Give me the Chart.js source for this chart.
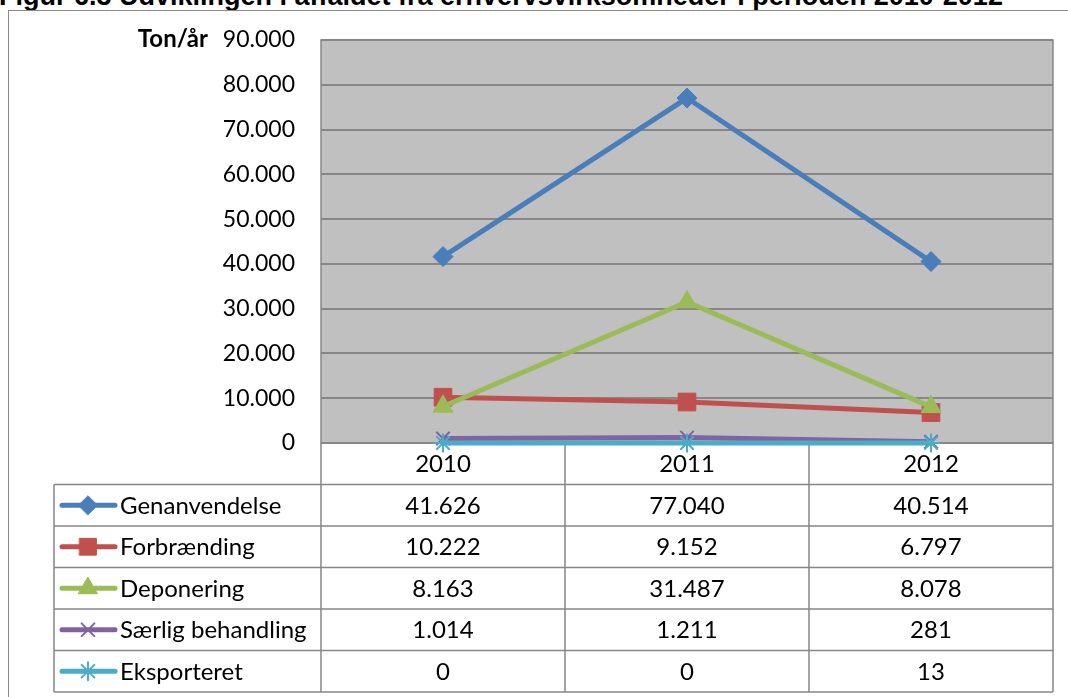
<!DOCTYPE html>
<html>
<head>
<meta charset="utf-8">
<script src="https://cdn.jsdelivr.net/npm/chart.js@4.4.1/dist/chart.umd.min.js"></script>
<style>
  body { margin: 0; background: #fff; overflow: hidden; }
  #wrap { position: relative; width: 1068px; height: 697px; }
  #frame { position: absolute; left: 8px; top: 10px; width: 1100px; height: 720px; border: 1.5px solid #8a8a8a; }
  #title { position: absolute; left: -1px; top: -19px; line-height: 27px; font: bold 27px "Liberation Sans", Arial, sans-serif; white-space: nowrap; color: #000; }
  canvas { position: absolute; left: 0; top: 0; }
</style>
</head>
<body>
<div id="wrap">
  <div id="title">Figur 6.3 Udviklingen i affaldet fra erhvervsvirksomheder i perioden 2010-2012</div>
  <div id="frame"></div>
  <canvas id="chart" width="1068" height="697"></canvas>
</div>
<script>
const years = ['2010', '2011', '2012'];
const seriesNames = ['Genanvendelse', 'Forbrænding', 'Deponering', 'Særlig behandling', 'Eksporteret'];
const genanvendelse = [41626, 77040, 40514];
const forbraending = [10222, 9152, 6797];
const deponering = [8163, 31487, 8078];
const saerlig = [1014, 1211, 281];
const eksporteret = [0, 0, 13];
const yTicks = [0, 10000, 20000, 30000, 40000, 50000, 60000, 70000, 80000, 90000];
const yTitle = 'Ton/år';

const colors = ['#4a7ebb', '#c0504d', '#9bbb59', '#8064a2', '#4bacc6'];
const styles = ['rectRot', 'rect', 'triangle', 'crossRot', 'star'];
const radii = [10, 12.5, 11.5, 9.5, 9.5];
const values = [genanvendelse, forbraending, deponering, saerlig, eksporteret];

const fmt = v => String(v).replace(/\B(?=(\d{3})+(?!\d))/g, '.');
const FONT = 'Lato, "Open Sans", sans-serif';
const GRID = '#868686';

const rowH = 41.5;
const legendLeft = 54;

const plotBg = {
  id: 'plotBg',
  beforeDraw(chart) {
    const { ctx, chartArea: a } = chart;
    ctx.save();
    ctx.fillStyle = '#c0c0c0';
    ctx.fillRect(a.left, a.top, a.right - a.left, a.bottom - a.top);
    ctx.restore();
  },
  beforeDatasetsDraw(chart) {
    const { ctx, chartArea: a, scales } = chart;
    ctx.save();
    ctx.strokeStyle = GRID;
    ctx.lineWidth = 1.5;
    ctx.strokeRect(a.left, a.top, a.right - a.left, a.bottom - a.top);

    // data table under the plot
    const top = a.bottom;
    const bottom = top + rowH * 6;
    const colW = (a.right - a.left) / years.length;
    ctx.beginPath();
    for (let k = 0; k <= years.length; k++) {
      const x = a.left + k * colW;
      ctx.moveTo(x, top); ctx.lineTo(x, bottom);
    }
    ctx.moveTo(legendLeft, top + rowH); ctx.lineTo(legendLeft, bottom);
    for (let k = 1; k <= 6; k++) {
      const y = top + rowH * k;
      ctx.moveTo(legendLeft, y); ctx.lineTo(a.right, y);
    }
    ctx.stroke();

    ctx.fillStyle = '#000';
    ctx.font = '24px ' + FONT;
    ctx.textBaseline = 'middle';
    ctx.textAlign = 'center';
    years.forEach((yr, j) => {
      const x = scales.x.getPixelForValue(j);
      ctx.fillText(yr, x, top + rowH / 2 + 1);
      values.forEach((vals, i) => {
        ctx.fillText(fmt(vals[j]), x, top + rowH * (i + 1.5) + 1);
      });
    });
    ctx.textAlign = 'left';
    seriesNames.forEach((name, i) => {
      const cy = top + rowH * (i + 1.5);
      ctx.save();
      ctx.strokeStyle = colors[i];
      ctx.lineWidth = 5;
      ctx.lineCap = 'round';
      ctx.beginPath();
      ctx.moveTo(62, cy); ctx.lineTo(115, cy);
      ctx.stroke();
      ctx.fillStyle = colors[i];
      ctx.lineWidth = i >= 3 ? 2 : 1;
      Chart.helpers.drawPoint(ctx, { pointStyle: styles[i], radius: radii[i] * 0.95, rotation: 0, borderWidth: ctx.lineWidth }, 88, cy);
      ctx.restore();
      ctx.fillStyle = '#000';
      ctx.fillText(name, 120, cy + 1);
    });

    // axis title
    ctx.font = 'bold 24px ' + FONT;
    ctx.textAlign = 'right';
    ctx.fillText(yTitle, 208, a.top - 1);
    ctx.restore();
  }
};

new Chart(document.getElementById('chart'), {
  type: 'line',
  data: {
    labels: years,
    datasets: seriesNames.map((name, i) => ({
      label: name,
      data: values[i],
      borderColor: colors[i],
      backgroundColor: colors[i],
      borderWidth: 5,
      pointStyle: styles[i],
      pointRadius: radii[i],
      pointBorderColor: colors[i],
      pointBackgroundColor: colors[i],
      pointBorderWidth: i >= 3 ? 2 : 1,
      tension: 0,
      clip: false,
      order: 5 - i
    }))
  },
  options: {
    responsive: false,
    animation: false,
    layout: { padding: { top: 40, bottom: 254, right: 15, left: 0 } },
    plugins: { legend: { display: false }, tooltip: { enabled: false } },
    scales: {
      x: { display: false, offset: true },
      y: {
        min: 0,
        max: 90000,
        afterBuildTicks: s => { s.ticks = yTicks.map(v => ({ value: v })); },
        afterFit: s => { s.width = 321; },
        border: { display: false },
        grid: { color: GRID, lineWidth: 2, drawTicks: false },
        ticks: {
          padding: 26,
          color: '#000',
          font: { family: FONT, size: 23 },
          callback: v => fmt(v)
        }
      }
    }
  },
  plugins: [plotBg]
});
</script>
</body>
</html>
